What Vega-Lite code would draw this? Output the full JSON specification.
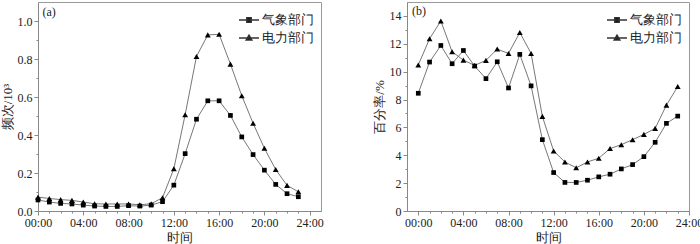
{
"$schema":"https://vega.github.io/schema/vega-lite/v6.json",
"padding":{"left":0,"top":1,"right":0,"bottom":0},
"config":{
 "font":"Liberation Serif",
 "view":{"stroke":"#999","strokeWidth":1},
 "axis":{"grid":false,"domainColor":"#888","tickColor":"#888","labelColor":"#222","titleColor":"#222","titleFontWeight":"normal","labelFontSize":12,"titleFontSize":13,"labelFont":"Liberation Serif","titleFont":"Liberation Serif","labelPadding":2,"labelOverlap":false,"labelFlush":false},
 "legend":{"orient":"top-right","offset":7,"padding":0,"title":null,"symbolSize":400,"labelFontSize":13,"labelColor":"#222","rowPadding":-5,"labelOffset":2,"labelFont":"Liberation Serif"}
},
"datasets":{
"a":[
{"h":0,"d":"气象部门","v":0.058},{"h":1,"d":"气象部门","v":0.047},{"h":2,"d":"气象部门","v":0.040},{"h":3,"d":"气象部门","v":0.037},{"h":4,"d":"气象部门","v":0.031},{"h":5,"d":"气象部门","v":0.026},{"h":6,"d":"气象部门","v":0.024},{"h":7,"d":"气象部门","v":0.024},{"h":8,"d":"气象部门","v":0.028},{"h":9,"d":"气象部门","v":0.026},{"h":10,"d":"气象部门","v":0.031},{"h":11,"d":"气象部门","v":0.049},{"h":12,"d":"气象部门","v":0.136},{"h":13,"d":"气象部门","v":0.302},{"h":14,"d":"气象部门","v":0.483},{"h":15,"d":"气象部门","v":0.580},{"h":16,"d":"气象部门","v":0.580},{"h":17,"d":"气象部门","v":0.503},{"h":18,"d":"气象部门","v":0.390},{"h":19,"d":"气象部门","v":0.297},{"h":20,"d":"气象部门","v":0.215},{"h":21,"d":"气象部门","v":0.140},{"h":22,"d":"气象部门","v":0.091},{"h":23,"d":"气象部门","v":0.075},
{"h":0,"d":"电力部门","v":0.073},{"h":1,"d":"电力部门","v":0.066},{"h":2,"d":"电力部门","v":0.060},{"h":3,"d":"电力部门","v":0.056},{"h":4,"d":"电力部门","v":0.047},{"h":5,"d":"电力部门","v":0.038},{"h":6,"d":"电力部门","v":0.037},{"h":7,"d":"电力部门","v":0.037},{"h":8,"d":"电力部门","v":0.037},{"h":9,"d":"电力部门","v":0.033},{"h":10,"d":"电力部门","v":0.038},{"h":11,"d":"电力部门","v":0.070},{"h":12,"d":"电力部门","v":0.222},{"h":13,"d":"电力部门","v":0.507},{"h":14,"d":"电力部门","v":0.813},{"h":15,"d":"电力部门","v":0.927},{"h":16,"d":"电力部门","v":0.930},{"h":17,"d":"电力部门","v":0.773},{"h":18,"d":"电力部门","v":0.607},{"h":19,"d":"电力部门","v":0.462},{"h":20,"d":"电力部门","v":0.330},{"h":21,"d":"电力部门","v":0.218},{"h":22,"d":"电力部门","v":0.135},{"h":23,"d":"电力部门","v":0.101}
],
"b":[
{"h":0,"d":"气象部门","v":8.45},{"h":1,"d":"气象部门","v":10.69},{"h":2,"d":"气象部门","v":11.88},{"h":3,"d":"气象部门","v":10.57},{"h":4,"d":"气象部门","v":11.52},{"h":5,"d":"气象部门","v":10.40},{"h":6,"d":"气象部门","v":9.50},{"h":7,"d":"气象部门","v":10.71},{"h":8,"d":"气象部门","v":8.83},{"h":9,"d":"气象部门","v":11.24},{"h":10,"d":"气象部门","v":8.98},{"h":11,"d":"气象部门","v":5.12},{"h":12,"d":"气象部门","v":2.76},{"h":13,"d":"气象部门","v":2.05},{"h":14,"d":"气象部门","v":2.05},{"h":15,"d":"气象部门","v":2.21},{"h":16,"d":"气象部门","v":2.45},{"h":17,"d":"气象部门","v":2.64},{"h":18,"d":"气象部门","v":3.02},{"h":19,"d":"气象部门","v":3.33},{"h":20,"d":"气象部门","v":3.90},{"h":21,"d":"气象部门","v":4.93},{"h":22,"d":"气象部门","v":6.29},{"h":23,"d":"气象部门","v":6.81},
{"h":0,"d":"电力部门","v":10.48},{"h":1,"d":"电力部门","v":12.36},{"h":2,"d":"电力部门","v":13.64},{"h":3,"d":"电力部门","v":11.43},{"h":4,"d":"电力部门","v":10.83},{"h":5,"d":"电力部门","v":10.45},{"h":6,"d":"电力部门","v":10.81},{"h":7,"d":"电力部门","v":11.62},{"h":8,"d":"电力部门","v":11.31},{"h":9,"d":"电力部门","v":12.81},{"h":10,"d":"电力部门","v":11.31},{"h":11,"d":"电力部门","v":6.79},{"h":12,"d":"电力部门","v":4.31},{"h":13,"d":"电力部门","v":3.52},{"h":14,"d":"电力部门","v":3.10},{"h":15,"d":"电力部门","v":3.52},{"h":16,"d":"电力部门","v":3.79},{"h":17,"d":"电力部门","v":4.48},{"h":18,"d":"电力部门","v":4.76},{"h":19,"d":"电力部门","v":5.12},{"h":20,"d":"电力部门","v":5.50},{"h":21,"d":"电力部门","v":5.93},{"h":22,"d":"电力部门","v":7.60},{"h":23,"d":"电力部门","v":8.93}
]
},
"spacing":86,
"bounds":"flush",
"resolve":{"scale":{"x":"independent","y":"independent","shape":"independent","size":"independent"},"legend":{"shape":"independent"}},
"hconcat":[
{
 "width":283,"height":209,
 "resolve":{"scale":{"shape":"independent"},"legend":{"shape":"independent"}},
 "encoding":{
    "x":{"field":"h","type":"quantitative","scale":{"domain":[0,25],"nice":false,"zero":false},
         "axis":{"title":"时间","titlePadding":3,"labelOverlap":false,"values":[0,1,2,3,4,5,6,7,8,9,10,11,12,13,14,15,16,17,18,19,20,21,22,23,24],
           "labelExpr":"datum.value % 4 === 0 ? ((datum.value < 10 ? '0' : '') + datum.value + ':00') : ''",
           "tickSize":{"condition":{"test":"datum.value % 4 === 0","value":4},"value":2}}},
    "y":{"field":"v","type":"quantitative","scale":{"domain":[0,1.1],"nice":false},
         "axis":{"title":"频次/10³","titlePadding":3,"labelOverlap":false,"values":[0,0.1,0.2,0.3,0.4,0.5,0.6,0.7,0.8,0.9,1.0],
           "labelExpr":"round(datum.value*10) % 2 === 0 ? format(datum.value,'.1f') : ''",
           "tickSize":{"condition":{"test":"round(datum.value*10) % 2 === 0","value":4},"value":2}}}
 },
 "layer":[
  {"data":{"name":"a"},"mark":{"type":"line","color":"#777","strokeWidth":1},
   "encoding":{"detail":{"field":"d"}}},
  {"data":{"name":"a"},"mark":{"type":"point","filled":true,"color":"black","opacity":1},
   "encoding":{
    "size":{"field":"d","type":"nominal","scale":{"domain":["气象部门","电力部门"],"range":[22,34]},"legend":null},
    "shape":{"field":"d","type":"nominal","scale":{"domain":["气象部门","电力部门"],"range":["square","triangle-up"]},"legend":null}}},
  {"data":{"name":"a"},"transform":[{"filter":"false"}],
   "mark":{"type":"point","fill":"black","stroke":"#333","strokeWidth":0.9,"opacity":1},
   "encoding":{
    "shape":{"field":"d","type":"nominal","scale":{"domain":["气象部门","电力部门"],"range":["M-1,0H1M-0.22,-0.22H0.22V0.22H-0.22Z","M-1,0H1M0,-0.28L0.28,0.2H-0.28Z"]}}}},
  {"data":{"values":[{"t":"(a)","h":0.4,"v":1.05}]},"mark":{"type":"text","align":"left","baseline":"middle","fontSize":12,"color":"#222"},
   "encoding":{"text":{"field":"t"}}}
 ]
},
{
 "width":282,"height":209,
 "resolve":{"scale":{"shape":"independent"},"legend":{"shape":"independent"}},
 "encoding":{
    "x":{"field":"h","type":"quantitative","scale":{"domain":[-1,24],"nice":false,"zero":false},
         "axis":{"title":"时间","titlePadding":3,"labelOverlap":false,"values":[0,1,2,3,4,5,6,7,8,9,10,11,12,13,14,15,16,17,18,19,20,21,22,23,24],
           "labelExpr":"datum.value % 4 === 0 ? ((datum.value < 10 ? '0' : '') + datum.value + ':00') : ''",
           "tickSize":{"condition":{"test":"datum.value % 4 === 0","value":4},"value":2}}},
    "y":{"field":"v","type":"quantitative","scale":{"domain":[0,15],"nice":false},
         "axis":{"title":"百分率/%","titlePadding":3,"labelOverlap":false,"values":[0,1,2,3,4,5,6,7,8,9,10,11,12,13,14],
           "labelExpr":"datum.value % 2 === 0 ? ('' + datum.value) : ''",
           "tickSize":{"condition":{"test":"datum.value % 2 === 0","value":4},"value":2}}}
 },
 "layer":[
  {"data":{"name":"b"},"mark":{"type":"line","color":"#777","strokeWidth":1},
   "encoding":{"detail":{"field":"d"}}},
  {"data":{"name":"b"},"mark":{"type":"point","filled":true,"color":"black","opacity":1},
   "encoding":{
    "size":{"field":"d","type":"nominal","scale":{"domain":["气象部门","电力部门"],"range":[22,34]},"legend":null},
    "shape":{"field":"d","type":"nominal","scale":{"domain":["气象部门","电力部门"],"range":["square","triangle-up"]},"legend":null}}},
  {"data":{"name":"b"},"transform":[{"filter":"false"}],
   "mark":{"type":"point","fill":"black","stroke":"#333","strokeWidth":0.9,"opacity":1},
   "encoding":{
    "shape":{"field":"d","type":"nominal","scale":{"domain":["气象部门","电力部门"],"range":["M-1,0H1M-0.22,-0.22H0.22V0.22H-0.22Z","M-1,0H1M0,-0.28L0.28,0.2H-0.28Z"]}}}},
  {"data":{"values":[{"t":"(b)","h":-0.55,"v":14.35}]},"mark":{"type":"text","align":"left","baseline":"middle","fontSize":12,"color":"#222"},
   "encoding":{"text":{"field":"t"}}}
 ]
}
]
}
